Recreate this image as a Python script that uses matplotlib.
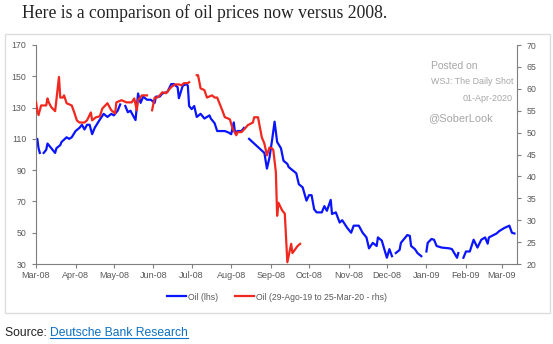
import numpy as np
import pandas as pd
import matplotlib
matplotlib.use("Agg")
import matplotlib.pyplot as plt
from matplotlib.patches import Rectangle
from matplotlib.lines import Line2D

nan = np.nan

# Oil 2008-09 (lhs), NaN = gap in the series
blue_dates = [
    "2008-03-01", "2008-03-02", "2008-03-03", "2008-03-04", "2008-03-05", "2008-03-07",
    "2008-03-09", "2008-03-10", "2008-03-13", "2008-03-16", "2008-03-17", "2008-03-20",
    "2008-03-21", "2008-03-25", "2008-03-27", "2008-03-29", "2008-04-01", "2008-04-04",
    "2008-04-06", "2008-04-08", "2008-04-10", "2008-04-12", "2008-04-14", "2008-04-16",
    "2008-04-19", "2008-04-23", "2008-04-26", "2008-04-29", "2008-05-01", "2008-05-04",
    "2008-05-06", "2008-05-08", "2008-05-10", "2008-05-12", "2008-05-14", "2008-05-16",
    "2008-05-18", "2008-05-20", "2008-05-22", "2008-05-24", "2008-05-27", "2008-05-30",
    "2008-06-02", "2008-06-03", "2008-06-06", "2008-06-08", "2008-06-12", "2008-06-15",
    "2008-06-17", "2008-06-20", "2008-06-21", "2008-06-24", "2008-06-27", "2008-06-28",
    "2008-06-29", "2008-07-01", "2008-07-03", "2008-07-05", "2008-07-08", "2008-07-11",
    "2008-07-15", "2008-07-16", "2008-07-19", "2008-07-21", "2008-07-25", "2008-07-27",
    "2008-07-30", "2008-08-01", "2008-08-03", "2008-08-04", "2008-08-06", "2008-08-09",
    "2008-08-11", "2008-08-13", "2008-08-15", "2008-08-19", "2008-08-23", "2008-08-27",
    "2008-08-29", "2008-08-31", "2008-09-02", "2008-09-04", "2008-09-06", "2008-09-09",
    "2008-09-11", "2008-09-14", "2008-09-15", "2008-09-18", "2008-09-21", "2008-09-23",
    "2008-09-26", "2008-09-29", "2008-10-01", "2008-10-03", "2008-10-05", "2008-10-07",
    "2008-10-11", "2008-10-13", "2008-10-15", "2008-10-18", "2008-10-19", "2008-10-22",
    "2008-10-25", "2008-10-27", "2008-10-31", "2008-11-03", "2008-11-05", "2008-11-09",
    "2008-11-12", "2008-11-15", "2008-11-17", "2008-11-20", "2008-11-23", "2008-11-24",
    "2008-11-27", "2008-12-01", "2008-12-03", "2008-12-05", "2008-12-06", "2008-12-08",
    "2008-12-11", "2008-12-12", "2008-12-15", "2008-12-17", "2008-12-19", "2008-12-20",
    "2008-12-23", "2008-12-25", "2008-12-28", "2008-12-30", "2009-01-01", "2009-01-02",
    "2009-01-05", "2009-01-07", "2009-01-09", "2009-01-13", "2009-01-19", "2009-01-21",
    "2009-01-25", "2009-01-26", "2009-01-28", "2009-01-30", "2009-02-01", "2009-02-04",
    "2009-02-07", "2009-02-10", "2009-02-13", "2009-02-16", "2009-02-18", "2009-02-19",
    "2009-02-25", "2009-02-27", "2009-03-03", "2009-03-07", "2009-03-09", "2009-03-11",
]
blue_vals = [
    108, 110, 104, 101, nan, 101,
    103, 107, 104, 101, 104, 106,
    108, 111, 110, 111, 115, 117,
    119, 116, 119, 119, 113, 117,
    121, 126, 124, 126, 125, 128,
    132, nan, 131, 127, 128, 125,
    122, 139, 133, 137, 135, 135,
    133, 137, 137, 139, 140, 145,
    145, 143, 136, 144, 145, 144,
    131, 129, 131, 124, 126, 123,
    125, 123, 120, 115, 115, 115,
    114, 113, 120.5, 114, 115, 115,
    117, nan, 110, 107, 104, 101,
    91, 98, 109, 121, 108, 104,
    96, 94, 92, 90, 88, 81,
    79, 70.5, 74, 74, 65, 63,
    63, 67, 64, 71, 62, 63,
    56.5, 58, 53, 50, 54.5, 54.5,
    50, 47, 40, 43.5, 41.5, 47,
    45, 34, 39.5, 35, nan, 37,
    39, 43.5, 46.5, 48.5, 48, 41.5,
    39.5, 37, 35, nan, 38, 43.5,
    46, 45.5, 41.5, 40.5, 40, 39.5,
    34, 37, nan, 34, 38, 38,
    45.5, 40.5, 45.5, 47, 43, 47,
    49.5, 51, 53, 54.5, 50, 49.5,
]

# Oil 29-Aug-19 to 25-Mar-20 (rhs), shifted onto the 2008 axis
red_dates = [
    "2019-08-29", "2019-08-30", "2019-08-31", "2019-09-02", "2019-09-04", "2019-09-06",
    "2019-09-07", "2019-09-08", "2019-09-10", "2019-09-13", "2019-09-16", "2019-09-17",
    "2019-09-19", "2019-09-20", "2019-09-22", "2019-09-26", "2019-09-28", "2019-09-30",
    "2019-10-02", "2019-10-06", "2019-10-08", "2019-10-11", "2019-10-12", "2019-10-15",
    "2019-10-18", "2019-10-20", "2019-10-24", "2019-10-27", "2019-10-30", "2019-10-31",
    "2019-11-04", "2019-11-08", "2019-11-12", "2019-11-14", "2019-11-16", "2019-11-17",
    "2019-11-20", "2019-11-22", "2019-11-24", "2019-11-26", "2019-11-28", "2019-11-30",
    "2019-12-02", "2019-12-04", "2019-12-06", "2019-12-09", "2019-12-13", "2019-12-16",
    "2019-12-19", "2019-12-21", "2019-12-23", "2019-12-26", "2019-12-27", "2019-12-30",
    "2020-01-02", "2020-01-03", "2020-01-05", "2020-01-08", "2020-01-10", "2020-01-14",
    "2020-01-16", "2020-01-18", "2020-01-22", "2020-01-24", "2020-01-26", "2020-01-28",
    "2020-01-30", "2020-02-02", "2020-02-03", "2020-02-06", "2020-02-09", "2020-02-11",
    "2020-02-15", "2020-02-16", "2020-02-19", "2020-02-22", "2020-02-24", "2020-02-26",
    "2020-02-28", "2020-03-01", "2020-03-02", "2020-03-04", "2020-03-05", "2020-03-06",
    "2020-03-09", "2020-03-11", "2020-03-13", "2020-03-16", "2020-03-17", "2020-03-21",
    "2020-03-23",
]
red_vals = [
    57, 55, 54, 56.2, 56.2, 56.2,
    57.8, 56.9, 55.8, 54.9, 62.7, 58,
    58, 58.5, 56.7, 56.2, 54.6, 52.8,
    52.3, 52.3, 52.8, 54.6, 52.8, 53.5,
    53.7, 55.5, 56.7, 55.1, 54.4, 56.9,
    57.4, 56.9, 56.9, 57.8, 55.1, 57.4,
    58.5, 58.5, 58.5, nan, 55.1, 58,
    58, 58.5, 59.2, 59, 60.4, 61,
    61, 60.8, 61.3, 61.3, 61.5, nan,
    63.1, 63.1, 60.1, 59.7, 58, 58.5,
    58, 58, 55.1, 53.5, 53.3, 53,
    51, 49.4, 50.1, 50.1, 51, 51.7,
    52.3, 53.5, 53.5, 48.9, 47.5, 44.8,
    46.6, 46.4, 46, 41, 31, 34,
    32.2, 31.5, 20.4, 24.6, 22.5, 24.1,
    24.6,
]

month_labels = ["Mar-08", "Apr-08", "May-08", "Jun-08", "Jul-08", "Aug-08", "Sep-08",
                "Oct-08", "Nov-08", "Dec-08", "Jan-09", "Feb-09", "Mar-09"]

blue_x = pd.to_datetime(blue_dates)
red_shift = pd.Timestamp("2008-03-01") - pd.Timestamp("2019-08-29")
red_x = pd.to_datetime(red_dates) + red_shift

W, H = 553, 344
fig = plt.figure(figsize=(W / 100, H / 100), dpi=100)
fig.patch.set_facecolor("white")

# outer chart frame
fig.patches.append(Rectangle((5 / W, 1 - 313 / H), 545 / W, 279 / H, transform=fig.transFigure,
                             facecolor="none", edgecolor="#dddddd", lw=1, zorder=-1))

ax = fig.add_axes([36 / W, 1 - 264 / H, 481 / W, 219 / H])
ax.set_facecolor("none")
ax2 = ax.twinx()

l1, = ax.plot(blue_x, blue_vals, color="#0a14ff", lw=1.6, label="Oil (lhs)")
l2, = ax2.plot(red_x, red_vals, color="#f0281e", lw=1.6, label="Oil (29-Ago-19 to 25-Mar-20 - rhs)")

ax.set_xlim(pd.Timestamp("2008-03-01"), pd.Timestamp("2009-03-13"))
ax.set_ylim(30, 170)
ax.set_yticks(range(30, 171, 20))
ax2.set_ylim(20, 70)
ax2.set_yticks(range(20, 71, 5))

ticks = pd.date_range("2008-03-01", "2009-03-01", freq="MS")
ax.set_xticks(ticks)
ax.set_xticklabels(month_labels)

axis_col = "#7f7f7f"
lab_col = "#595959"
for a in (ax, ax2):
    for s in a.spines.values():
        s.set_visible(False)
    a.tick_params(axis="both", colors=axis_col, labelcolor=lab_col, labelsize=6.5,
                  length=3, width=0.8, direction="out", pad=2)
ax.tick_params(axis="y", labelsize=6.3, pad=4)
ax2.tick_params(axis="y", labelsize=6.3, pad=4)
ax.spines["left"].set_visible(True)
ax.spines["bottom"].set_visible(True)
ax2.spines["right"].set_visible(True)
ax.spines["left"].set_color(axis_col)
ax.spines["bottom"].set_color(axis_col)
ax2.spines["right"].set_color(axis_col)
for lab in ax.get_xticklabels() + ax.get_yticklabels() + ax2.get_yticklabels():
    lab.set_fontfamily("Liberation Sans")

# watermark
wm = "#a6a6a6"
fig.text(431 / W, 1 - 66 / H, "Posted on", color=wm, fontsize=7.5, va="center",
         family="Liberation Sans")
fig.text(431 / W, 1 - 82 / H, "WSJ: The Daily Shot", color=wm, fontsize=6.4, va="center",
         family="Liberation Sans")
fig.text(513 / W, 1 - 98 / H, "01-Apr-2020", color=wm, fontsize=6.5, va="center", ha="right",
         family="Liberation Sans")
fig.text(428 / W, 1 - 118 / H, "@SoberLook", color=wm, fontsize=7.9, va="center",
         family="Liberation Sans")

fig.legend([l1, l2], [l1.get_label(), l2.get_label()], loc="center", bbox_to_anchor=(277 / W, 1 - 297 / H),
           ncol=2, frameon=False, handlelength=2.2, handletextpad=0.2, columnspacing=2.0,
           prop={"family": "Liberation Sans", "size": 6.2}, labelcolor=lab_col)

fig.text(22 / W, 1 - 18 / H, "Here is a comparison of oil prices now versus 2008.",
         fontsize=12.7, family="Liberation Serif", color="#222222", va="baseline")

src = fig.text(5 / W, 1 - 336 / H, "Source: ", fontsize=8.7, family="Liberation Sans",
               color="#222222", va="baseline")
fig.canvas.draw()
bb = src.get_window_extent()
link = fig.text(bb.x1 / W, 1 - 336 / H, "Deutsche Bank Research", fontsize=8.7,
                family="Liberation Sans", color="#0b6fc2", va="baseline")
fig.canvas.draw()
lb = link.get_window_extent()
uy = (H - 338) / H
fig.lines.append(Line2D([lb.x0 / W, lb.x1 / W], [uy, uy], transform=fig.transFigure,
                        color="#0b6fc2", lw=0.8))

fig.savefig("out.png", dpi=100)
